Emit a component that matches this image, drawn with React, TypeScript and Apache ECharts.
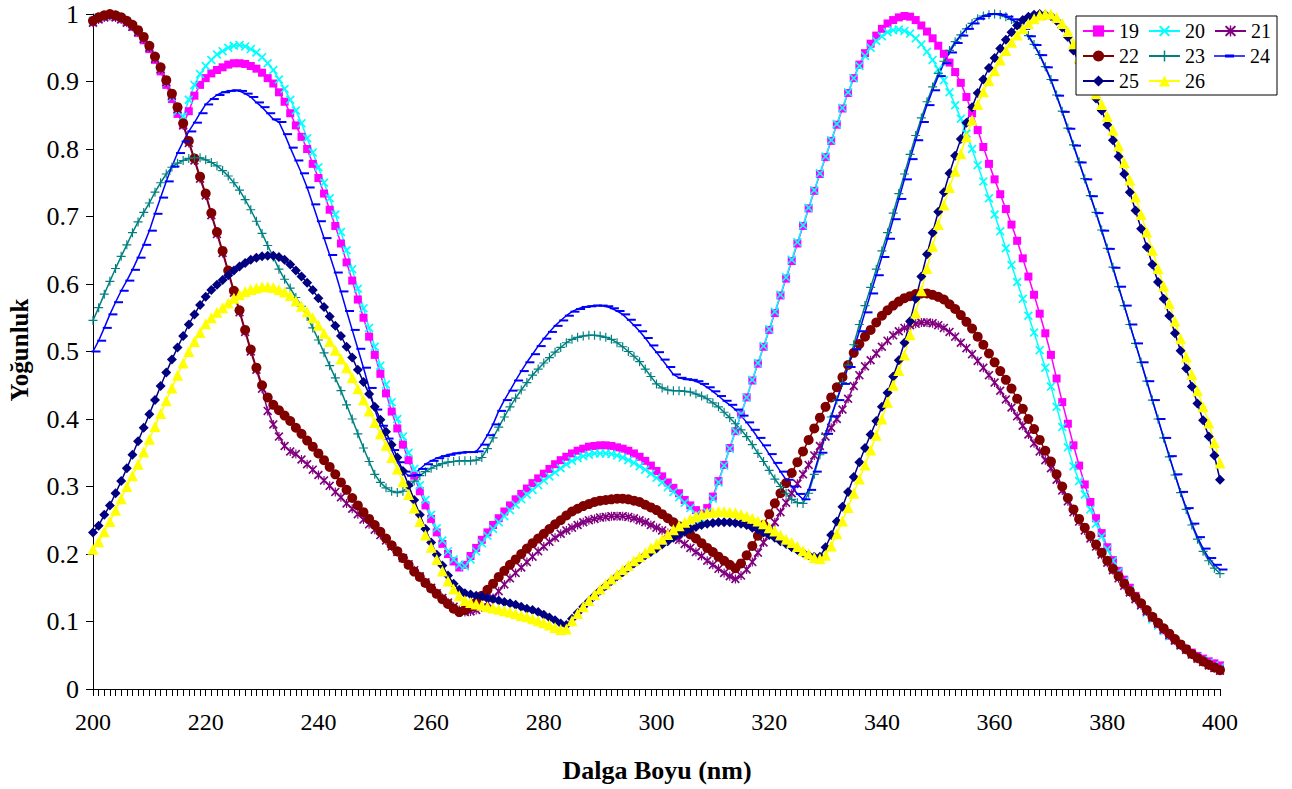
import React, { useEffect, useRef } from "react";
import * as echarts from "echarts";

// Wavelength grid (nm), one point per nm
const START_NM = 200;
const END_NM = 400;
const WAVELENGTHS: number[] = [];
for (let w = START_NM; w <= END_NM; w++) WAVELENGTHS.push(w);

const SERIES_NAMES = ["19", "20", "21", "22", "23", "24", "25", "26"];
const X_TITLE = "Dalga Boyu (nm)";
const Y_TITLE = "Yoğunluk";

// Series 19
const S19 = [
  0.988, 0.993, 0.996, 0.998, 0.996, 0.993, 0.988, 0.981, 0.972, 0.961,
  0.948, 0.932, 0.915, 0.895, 0.874, 0.852, 0.836, 0.856, 0.879, 0.895,
  0.905, 0.912, 0.917, 0.921, 0.925, 0.927, 0.927, 0.926, 0.923, 0.919,
  0.913, 0.905, 0.897, 0.884, 0.87, 0.853, 0.835, 0.818, 0.8, 0.778,
  0.757, 0.734, 0.71, 0.686, 0.66, 0.632, 0.605, 0.577, 0.55, 0.522,
  0.495, 0.467, 0.438, 0.411, 0.386, 0.362, 0.339, 0.316, 0.293, 0.272,
  0.252, 0.232, 0.215, 0.2, 0.189, 0.18, 0.184, 0.197, 0.209, 0.221,
  0.232, 0.243, 0.253, 0.263, 0.272, 0.281, 0.289, 0.297, 0.305, 0.312,
  0.319, 0.326, 0.333, 0.339, 0.344, 0.349, 0.353, 0.356, 0.359, 0.36,
  0.361, 0.361, 0.36, 0.358, 0.356, 0.353, 0.349, 0.344, 0.338, 0.331,
  0.323, 0.315, 0.306, 0.298, 0.29, 0.28, 0.272, 0.265, 0.26, 0.268,
  0.285, 0.308, 0.332, 0.357, 0.382, 0.407, 0.432, 0.457, 0.482, 0.507,
  0.532, 0.557, 0.583, 0.608, 0.634, 0.66, 0.686, 0.712, 0.738, 0.763,
  0.788, 0.812, 0.836, 0.86, 0.883, 0.905, 0.925, 0.942, 0.956, 0.968,
  0.978, 0.986, 0.991, 0.995, 0.997, 0.996, 0.991, 0.983, 0.974, 0.964,
  0.953, 0.941, 0.928, 0.914, 0.898, 0.877, 0.853, 0.828, 0.803, 0.778,
  0.755, 0.733, 0.711, 0.688, 0.664, 0.638, 0.611, 0.584, 0.556, 0.527,
  0.495, 0.46, 0.425, 0.393, 0.361, 0.331, 0.303, 0.277, 0.253, 0.231,
  0.21, 0.191, 0.175, 0.162, 0.15, 0.138, 0.126, 0.115, 0.105, 0.096,
  0.087, 0.079, 0.072, 0.065, 0.059, 0.054, 0.049, 0.045, 0.041, 0.038, 0.035,
];

// Series 20
const S20 = [
  0.99, 0.995, 0.997, 0.998, 0.997, 0.994, 0.989, 0.982, 0.974, 0.963,
  0.95, 0.935, 0.918, 0.898, 0.877, 0.856, 0.848, 0.873, 0.895, 0.911,
  0.923, 0.932, 0.94, 0.945, 0.95, 0.953, 0.954, 0.952, 0.948, 0.943,
  0.936, 0.927, 0.917, 0.903, 0.889, 0.873, 0.857, 0.838, 0.816, 0.795,
  0.773, 0.75, 0.727, 0.703, 0.677, 0.65, 0.622, 0.593, 0.564, 0.535,
  0.507, 0.479, 0.451, 0.425, 0.4, 0.374, 0.35, 0.326, 0.302, 0.28,
  0.258, 0.238, 0.22, 0.204, 0.192, 0.184, 0.182, 0.192, 0.204, 0.216,
  0.227, 0.237, 0.247, 0.256, 0.265, 0.273, 0.281, 0.288, 0.295, 0.302,
  0.309, 0.315, 0.321, 0.327, 0.333, 0.338, 0.342, 0.345, 0.347, 0.349,
  0.349, 0.349, 0.348, 0.346, 0.343, 0.339, 0.335, 0.33, 0.325, 0.319,
  0.313, 0.306, 0.299, 0.292, 0.284, 0.276, 0.268, 0.258, 0.252, 0.262,
  0.282, 0.306, 0.331, 0.356, 0.382, 0.407, 0.432, 0.458, 0.483, 0.508,
  0.533, 0.559, 0.584, 0.61, 0.636, 0.662, 0.687, 0.713, 0.739, 0.764,
  0.789, 0.813, 0.837, 0.861, 0.884, 0.905, 0.923, 0.938, 0.95, 0.96,
  0.967, 0.973, 0.976, 0.977, 0.975, 0.971, 0.964, 0.955, 0.944, 0.932,
  0.918, 0.902, 0.884, 0.865, 0.845, 0.823, 0.8, 0.776, 0.752, 0.727,
  0.703, 0.678, 0.653, 0.628, 0.603, 0.578, 0.553, 0.528, 0.502, 0.476,
  0.448, 0.418, 0.388, 0.358, 0.33, 0.308, 0.288, 0.266, 0.245, 0.226,
  0.207, 0.19, 0.174, 0.16, 0.147, 0.135, 0.124, 0.113, 0.103, 0.094,
  0.086, 0.078, 0.071, 0.064, 0.058, 0.052, 0.047, 0.043, 0.039, 0.035, 0.032,
];

// Series 21
const S21 = [
  0.987, 0.992, 0.995, 0.997, 0.995, 0.992, 0.987, 0.981, 0.973, 0.963,
  0.95, 0.934, 0.918, 0.899, 0.879, 0.859, 0.835, 0.809, 0.783, 0.756,
  0.731, 0.702, 0.674, 0.646, 0.617, 0.587, 0.558, 0.529, 0.5, 0.473,
  0.445, 0.412, 0.392, 0.374, 0.36, 0.352, 0.348, 0.34, 0.333, 0.325,
  0.317, 0.309, 0.301, 0.292, 0.284, 0.275, 0.267, 0.259, 0.251, 0.244,
  0.236, 0.228, 0.22, 0.211, 0.203, 0.194, 0.185, 0.176, 0.167, 0.158,
  0.15, 0.142, 0.135, 0.128, 0.122, 0.117, 0.114, 0.115, 0.117, 0.121,
  0.128, 0.135, 0.145, 0.155, 0.164, 0.172, 0.18, 0.188, 0.196, 0.204,
  0.211, 0.218, 0.224, 0.23, 0.235, 0.239, 0.243, 0.247, 0.25, 0.252,
  0.254, 0.255, 0.256, 0.256, 0.256, 0.255, 0.253, 0.25, 0.247, 0.243,
  0.239, 0.235, 0.231, 0.226, 0.221, 0.215, 0.209, 0.203, 0.197, 0.19,
  0.184, 0.178, 0.172, 0.167, 0.163, 0.168, 0.177, 0.188, 0.202, 0.217,
  0.232, 0.247, 0.262, 0.276, 0.29, 0.304, 0.318, 0.332, 0.346, 0.36,
  0.374, 0.387, 0.4, 0.414, 0.43, 0.449, 0.465, 0.478, 0.487, 0.497,
  0.507, 0.516, 0.524, 0.53, 0.535, 0.539, 0.541, 0.543, 0.543, 0.542,
  0.539, 0.535, 0.529, 0.522, 0.513, 0.505, 0.496, 0.486, 0.476, 0.465,
  0.454, 0.442, 0.429, 0.417, 0.404, 0.39, 0.377, 0.364, 0.352, 0.339,
  0.327, 0.31, 0.294, 0.278, 0.262, 0.248, 0.235, 0.223, 0.211, 0.199,
  0.187, 0.176, 0.164, 0.153, 0.143, 0.133, 0.124, 0.115, 0.106, 0.097,
  0.088, 0.08, 0.072, 0.065, 0.058, 0.051, 0.045, 0.04, 0.035, 0.031, 0.027,
];

// Series 22
const S22 = [
  0.99, 0.995, 0.998, 1.0, 0.998, 0.995, 0.99, 0.984, 0.976, 0.966,
  0.953, 0.937, 0.921, 0.902, 0.882, 0.862, 0.838, 0.812, 0.786, 0.759,
  0.734, 0.705, 0.677, 0.649, 0.62, 0.59, 0.561, 0.532, 0.503, 0.476,
  0.45, 0.432, 0.421, 0.413, 0.405, 0.397, 0.387, 0.378, 0.368, 0.359,
  0.349, 0.339, 0.329, 0.318, 0.306, 0.295, 0.283, 0.272, 0.262, 0.252,
  0.243, 0.233, 0.223, 0.213, 0.204, 0.194, 0.184, 0.174, 0.166, 0.157,
  0.149, 0.141, 0.133, 0.126, 0.119, 0.114, 0.117, 0.122, 0.128, 0.138,
  0.147, 0.156, 0.166, 0.175, 0.184, 0.192, 0.2, 0.208, 0.216, 0.223,
  0.23, 0.237, 0.244, 0.25, 0.257, 0.263, 0.267, 0.271, 0.274, 0.277,
  0.279, 0.28, 0.281, 0.282, 0.282, 0.281, 0.279, 0.277, 0.273, 0.269,
  0.265, 0.259, 0.253, 0.247, 0.241, 0.235, 0.229, 0.223, 0.216, 0.209,
  0.203, 0.196, 0.19, 0.184, 0.179, 0.186, 0.198, 0.212, 0.227, 0.243,
  0.259, 0.275, 0.29, 0.305, 0.32, 0.336, 0.352, 0.369, 0.386, 0.402,
  0.418, 0.432, 0.447, 0.462, 0.48, 0.498, 0.511, 0.522, 0.532, 0.543,
  0.553, 0.561, 0.568, 0.574, 0.579, 0.582, 0.585, 0.586, 0.586, 0.584,
  0.581, 0.577, 0.57, 0.563, 0.554, 0.544, 0.534, 0.522, 0.51, 0.497,
  0.484, 0.471, 0.458, 0.445, 0.43, 0.415, 0.4, 0.385, 0.369, 0.353,
  0.337, 0.318, 0.3, 0.283, 0.266, 0.252, 0.239, 0.227, 0.214, 0.202,
  0.19, 0.178, 0.167, 0.156, 0.145, 0.136, 0.127, 0.117, 0.107, 0.098,
  0.09, 0.082, 0.074, 0.066, 0.059, 0.052, 0.046, 0.041, 0.036, 0.032, 0.028,
];

// Series 23
const S23 = [
  0.546, 0.565, 0.585, 0.604, 0.623, 0.641, 0.658, 0.676, 0.692, 0.706,
  0.72, 0.736, 0.75, 0.763, 0.773, 0.779, 0.783, 0.786, 0.787, 0.787,
  0.784, 0.78, 0.775, 0.768, 0.76, 0.75, 0.739, 0.725, 0.71, 0.693,
  0.675, 0.657, 0.64, 0.622, 0.607, 0.594, 0.58, 0.567, 0.552, 0.535,
  0.517, 0.498, 0.479, 0.461, 0.442, 0.421, 0.4, 0.378, 0.357, 0.337,
  0.318, 0.306, 0.298, 0.293, 0.291, 0.293, 0.3, 0.308, 0.316, 0.322,
  0.327, 0.331, 0.334, 0.336, 0.337, 0.338, 0.338, 0.338, 0.339, 0.343,
  0.356, 0.372, 0.388, 0.403, 0.418, 0.431, 0.443, 0.454, 0.465, 0.474,
  0.483, 0.491, 0.499, 0.506, 0.513, 0.518, 0.521, 0.523, 0.524, 0.524,
  0.523, 0.521, 0.518, 0.513, 0.507, 0.5, 0.493, 0.485, 0.474, 0.463,
  0.452, 0.446, 0.443, 0.442, 0.442, 0.441, 0.44, 0.437, 0.434, 0.43,
  0.424, 0.418, 0.41, 0.402, 0.393, 0.384, 0.374, 0.362, 0.349, 0.337,
  0.324, 0.311, 0.3, 0.29, 0.281, 0.276, 0.275, 0.29, 0.318, 0.347,
  0.377, 0.403, 0.428, 0.454, 0.48, 0.51, 0.54, 0.568, 0.595, 0.622,
  0.649, 0.676, 0.705, 0.734, 0.763, 0.792, 0.82, 0.846, 0.87, 0.892,
  0.912, 0.93, 0.946, 0.959, 0.969, 0.978, 0.986, 0.993, 0.997, 0.999,
  1.0, 0.999, 0.996, 0.992, 0.987, 0.979, 0.968, 0.955, 0.94, 0.922,
  0.903, 0.88, 0.856, 0.831, 0.806, 0.781, 0.756, 0.731, 0.706, 0.68,
  0.653, 0.625, 0.596, 0.568, 0.54, 0.512, 0.484, 0.456, 0.428, 0.4,
  0.372, 0.344, 0.317, 0.291, 0.266, 0.243, 0.222, 0.204, 0.19, 0.179, 0.171,
];

// Series 24
const S24 = [
  0.5, 0.516, 0.535, 0.555, 0.573, 0.59, 0.605, 0.621, 0.639, 0.658,
  0.679, 0.704, 0.728, 0.752, 0.774, 0.794, 0.811, 0.826, 0.839, 0.853,
  0.866, 0.874, 0.88, 0.884, 0.886, 0.887, 0.886, 0.882, 0.877, 0.869,
  0.862, 0.853, 0.844, 0.84, 0.822, 0.802, 0.783, 0.764, 0.743, 0.718,
  0.693, 0.668, 0.643, 0.617, 0.589, 0.56, 0.532, 0.504, 0.476, 0.446,
  0.414, 0.39, 0.371, 0.354, 0.336, 0.322, 0.316, 0.317, 0.326, 0.333,
  0.338, 0.342, 0.345, 0.347, 0.349, 0.35, 0.351, 0.351, 0.352, 0.362,
  0.376, 0.392, 0.412, 0.428, 0.442, 0.457, 0.471, 0.484, 0.496, 0.508,
  0.519, 0.529, 0.538, 0.546, 0.553, 0.559, 0.563, 0.566, 0.567, 0.568,
  0.568, 0.567, 0.564, 0.56, 0.555, 0.547, 0.539, 0.53, 0.52, 0.509,
  0.499, 0.488, 0.477, 0.466, 0.461, 0.459, 0.458, 0.456, 0.452, 0.447,
  0.441, 0.434, 0.427, 0.421, 0.414, 0.405, 0.395, 0.384, 0.372, 0.361,
  0.348, 0.335, 0.322, 0.31, 0.3, 0.289, 0.281, 0.295, 0.322, 0.35,
  0.378, 0.404, 0.428, 0.452, 0.477, 0.503, 0.53, 0.558, 0.586, 0.613,
  0.64, 0.667, 0.696, 0.726, 0.755, 0.785, 0.813, 0.84, 0.865, 0.887,
  0.908, 0.927, 0.943, 0.957, 0.968, 0.978, 0.986, 0.993, 0.997, 1.0,
  1.0, 0.999, 0.996, 0.992, 0.986, 0.978, 0.967, 0.954, 0.939, 0.921,
  0.902, 0.879, 0.855, 0.83, 0.805, 0.78, 0.755, 0.73, 0.705, 0.679,
  0.652, 0.624, 0.596, 0.568, 0.54, 0.512, 0.484, 0.456, 0.428, 0.4,
  0.372, 0.345, 0.318, 0.292, 0.268, 0.245, 0.225, 0.208, 0.194, 0.184, 0.177,
];

// Series 25
const S25 = [
  0.232, 0.242, 0.258, 0.272, 0.29, 0.308, 0.327, 0.347, 0.367, 0.387,
  0.407, 0.428, 0.449, 0.469, 0.488, 0.506, 0.523, 0.54, 0.555, 0.569,
  0.581, 0.591, 0.599, 0.606, 0.613, 0.62, 0.626, 0.631, 0.636, 0.639,
  0.641, 0.642, 0.642, 0.64, 0.636, 0.629, 0.62, 0.611, 0.602, 0.591,
  0.579, 0.566, 0.552, 0.538, 0.523, 0.507, 0.491, 0.473, 0.455, 0.437,
  0.418, 0.399, 0.381, 0.362, 0.343, 0.323, 0.302, 0.28, 0.258, 0.237,
  0.217, 0.199, 0.183, 0.168, 0.156, 0.147, 0.142, 0.14, 0.138, 0.137,
  0.135, 0.133, 0.131, 0.129, 0.127, 0.125, 0.122, 0.119, 0.117, 0.114,
  0.11, 0.106, 0.102, 0.097, 0.095, 0.104, 0.113, 0.122, 0.13, 0.138,
  0.146, 0.153, 0.16, 0.167, 0.173, 0.18, 0.186, 0.192, 0.198, 0.203,
  0.208, 0.214, 0.219, 0.224, 0.229, 0.233, 0.237, 0.24, 0.243, 0.245,
  0.246, 0.247, 0.247, 0.247, 0.246, 0.245, 0.243, 0.239, 0.236, 0.232,
  0.228, 0.224, 0.219, 0.215, 0.21, 0.206, 0.202, 0.198, 0.196, 0.196,
  0.21, 0.228, 0.248, 0.27, 0.292, 0.314, 0.336, 0.357, 0.377, 0.397,
  0.418, 0.439, 0.463, 0.487, 0.513, 0.545, 0.578, 0.611, 0.644, 0.676,
  0.707, 0.736, 0.764, 0.79, 0.815, 0.839, 0.862, 0.883, 0.903, 0.92,
  0.935, 0.949, 0.962, 0.973, 0.983, 0.991, 0.996, 0.999, 1.0, 0.999,
  0.997, 0.99, 0.98, 0.966, 0.946, 0.928, 0.91, 0.892, 0.875, 0.857,
  0.836, 0.813, 0.789, 0.763, 0.736, 0.709, 0.682, 0.655, 0.629, 0.603,
  0.578, 0.553, 0.527, 0.501, 0.475, 0.448, 0.423, 0.398, 0.374, 0.346, 0.31,
];

// Series 26
const S26 = [
  0.207, 0.218, 0.233, 0.248, 0.265, 0.282, 0.3, 0.316, 0.333, 0.351,
  0.37, 0.389, 0.408, 0.427, 0.446, 0.465, 0.483, 0.5, 0.515, 0.528,
  0.541, 0.55, 0.558, 0.565, 0.572, 0.579, 0.584, 0.589, 0.592, 0.594,
  0.596, 0.596, 0.595, 0.592, 0.588, 0.583, 0.575, 0.567, 0.559, 0.55,
  0.539, 0.527, 0.515, 0.502, 0.489, 0.476, 0.461, 0.445, 0.428, 0.412,
  0.395, 0.378, 0.361, 0.343, 0.326, 0.307, 0.288, 0.268, 0.248, 0.228,
  0.21, 0.192, 0.175, 0.16, 0.148, 0.138, 0.131, 0.128, 0.126, 0.124,
  0.122, 0.12, 0.118, 0.116, 0.114, 0.112, 0.109, 0.107, 0.104, 0.101,
  0.098, 0.095, 0.091, 0.088, 0.089, 0.101, 0.112, 0.122, 0.131, 0.14,
  0.148, 0.156, 0.163, 0.17, 0.177, 0.183, 0.19, 0.196, 0.202, 0.209,
  0.215, 0.222, 0.229, 0.236, 0.242, 0.247, 0.252, 0.256, 0.259, 0.261,
  0.262, 0.263, 0.263, 0.262, 0.261, 0.259, 0.256, 0.253, 0.249, 0.245,
  0.239, 0.234, 0.228, 0.222, 0.217, 0.211, 0.205, 0.2, 0.195, 0.193,
  0.198, 0.212, 0.23, 0.249, 0.269, 0.29, 0.311, 0.332, 0.354, 0.376,
  0.4, 0.425, 0.45, 0.472, 0.495, 0.525, 0.557, 0.59, 0.623, 0.656,
  0.688, 0.717, 0.743, 0.767, 0.793, 0.818, 0.843, 0.866, 0.885, 0.901,
  0.916, 0.932, 0.946, 0.958, 0.969, 0.978, 0.986, 0.993, 0.998, 1.0,
  1.0, 0.995, 0.986, 0.974, 0.956, 0.935, 0.916, 0.899, 0.882, 0.866,
  0.848, 0.828, 0.805, 0.78, 0.754, 0.729, 0.703, 0.677, 0.65, 0.623,
  0.597, 0.571, 0.545, 0.519, 0.492, 0.466, 0.442, 0.418, 0.394, 0.365, 0.335,
];

const SERIES_VALUES = [S19, S20, S21, S22, S23, S24, S25, S26];

// ---- styles (kept separate from the data) ----
const FONT = '"Liberation Serif", "Times New Roman", serif';
const X_SYMBOL = "path://M0,1.3 L1.3,0 L5,3.7 L8.7,0 L10,1.3 L6.3,5 L10,8.7 L8.7,10 L5,6.3 L1.3,10 L0,8.7 L3.7,5 Z";
const STAR_SYMBOL =
  "path://M0,1.3 L1.3,0 L5,3.7 L8.7,0 L10,1.3 L6.3,5 L10,8.7 L8.7,10 L5,6.3 L1.3,10 L0,8.7 L3.7,5 Z M4.35,0 L5.65,0 L5.65,10 L4.35,10 Z";
const PLUS_SYMBOL =
  "path://M4.35,0 L5.65,0 L5.65,4.35 L10,4.35 L10,5.65 L5.65,5.65 L5.65,10 L4.35,10 L4.35,5.65 L0,5.65 L0,4.35 L4.35,4.35 Z";
const DASH_SYMBOL = "path://M0,0 L10,0 L10,2 L0,2 Z";
// legend icon for the dash series: thin line with a thicker dash in the middle
// (tiny corner specks keep the icon's bounding box at the full item size)
const DASH_LEGEND =
  "path://M0,0 L0.05,0 L0,0.05 Z M31,14 L30.95,14 L31,13.95 Z M0,6.25 L31,6.25 L31,7.75 L0,7.75 Z M11,5.5 L20,5.5 L20,8.5 L11,8.5 Z";

const STYLES: any[] = [
  { color: "#FF00FF", symbol: "rect", size: 8, offset: [0, 0] },
  { color: "#00FFFF", symbol: X_SYMBOL, size: 9, offset: [0, 0] },
  { color: "#800080", symbol: STAR_SYMBOL, size: 9, offset: [0, 0] },
  { color: "#800000", symbol: "circle", size: 10, offset: [0, 0] },
  { color: "#008080", symbol: PLUS_SYMBOL, size: 9, offset: [0, 0] },
  { color: "#0000FF", symbol: DASH_SYMBOL, size: [9, 2], offset: [3, 0], legendIcon: DASH_LEGEND },
  { color: "#000080", symbol: "diamond", size: 10, offset: [0, 0] },
  { color: "#FFFF00", symbol: "triangle", size: 11, offset: [0, 0] },
];

export default function App() {
  const ref = useRef<HTMLDivElement>(null);

  useEffect(() => {
    if (!ref.current) return;
    const chart = echarts.init(ref.current, undefined, { renderer: "svg" });

    const series = SERIES_NAMES.map((name, i) => {
      const st = STYLES[i];
      const vals = SERIES_VALUES[i];
      return {
        name,
        type: "line",
        data: WAVELENGTHS.map((w, j) => [w, vals[j]]),
        symbol: st.symbol,
        symbolSize: st.size,
        symbolOffset: st.offset,
        showSymbol: true,
        showAllSymbol: true,
        clip: false,
        lineStyle: { color: st.color, width: 1.5 },
        itemStyle: { color: st.color, borderWidth: 0 },
        emphasis: { disabled: true },
        silent: true,
      };
    });

    const legendData = SERIES_NAMES.map((name, i) =>
      STYLES[i].legendIcon ? { name, icon: STYLES[i].legendIcon } : { name }
    );

    const option: any = {
      animation: false,
      backgroundColor: "#ffffff",
      textStyle: { fontFamily: FONT },
      grid: { left: 93, top: 14, width: 1127, height: 675, containLabel: false },
      xAxis: {
        type: "value",
        min: START_NM,
        max: END_NM,
        interval: 20,
        axisLine: { show: true, onZero: false, lineStyle: { color: "#000", width: 1 } },
        axisTick: { show: true, length: 7, lineStyle: { color: "#000", width: 1 } },
        minorTick: { show: true, splitNumber: 20, length: 7, lineStyle: { color: "#000", width: 1 } },
        splitLine: { show: false },
        minorSplitLine: { show: false },
        axisLabel: { fontSize: 24, color: "#000", margin: 21, fontFamily: FONT },
      },
      yAxis: {
        type: "value",
        min: 0,
        max: 1,
        interval: 0.1,
        axisLine: { show: true, lineStyle: { color: "#000", width: 1 } },
        axisTick: { show: true, length: 7, lineStyle: { color: "#000", width: 1 } },
        splitLine: { show: false },
        axisLabel: {
          fontSize: 26,
          color: "#000",
          margin: 14,
          fontFamily: FONT,
          formatter: (v: number) => String(Math.round(v * 10) / 10),
        },
      },
      legend: {
        data: legendData,
        left: 1076,
        top: 16,
        width: 200,
        orient: "horizontal",
        itemWidth: 31,
        itemHeight: 14,
        itemGap: 5,
        padding: [5, 2, 4, 6],
        borderColor: "#000",
        borderWidth: 1,
        backgroundColor: "#fff",
        selectedMode: false,
        textStyle: {
          fontSize: 20,
          color: "#000",
          fontFamily: FONT,
          lineHeight: 20,
          padding: [0, 4, 0, 0],
        },
      },
      graphic: [
        {
          type: "text",
          x: 657,
          y: 770,
          style: {
            text: X_TITLE,
            font: `bold 26px ${FONT}`,
            fill: "#000",
            align: "center",
            verticalAlign: "middle",
          },
        },
        {
          type: "text",
          x: 19,
          y: 350,
          rotation: Math.PI / 2,
          style: {
            text: Y_TITLE,
            font: `bold 25px ${FONT}`,
            fill: "#000",
            align: "center",
            verticalAlign: "middle",
          },
        },
      ],
      series,
    };

    chart.setOption(option);
    return () => chart.dispose();
  }, []);

  return (
    <div
      ref={ref}
      style={{ position: "fixed", left: 0, top: 0, width: 1292, height: 789, background: "#fff" }}
    />
  );
}
